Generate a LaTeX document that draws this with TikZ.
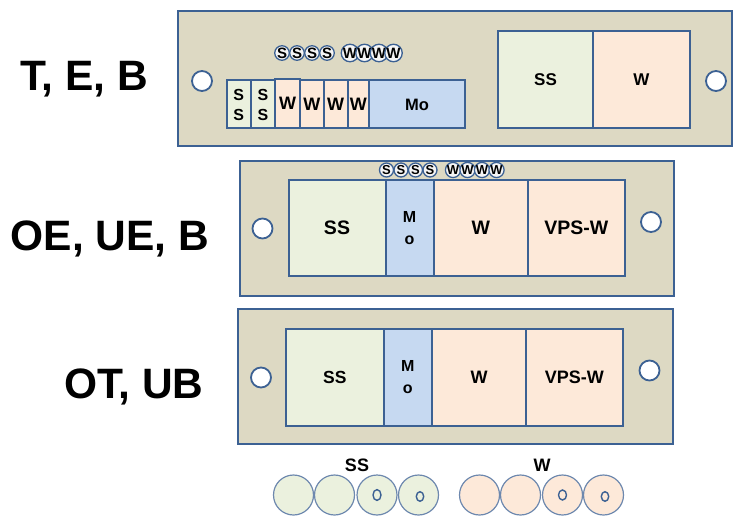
\documentclass[tikz,border=0pt]{standalone}
\usepackage{fontspec}
\setmainfont{Liberation Sans}
\usetikzlibrary{positioning}

\definecolor{panelbg}{HTML}{DDD9C3}
\definecolor{edge}{HTML}{3C6193}
\definecolor{ssfill}{HTML}{EBF1DE}
\definecolor{wfill}{HTML}{FDE9D9}
\definecolor{mofill}{HTML}{C6D9F1}

\newcommand{\fs}[1]{\bfseries\fontsize{#1}{#1}\selectfont}

\begin{document}
\begin{tikzpicture}[x=1pt,y=-1pt,
  panel/.style={draw=edge,fill=panelbg,line width=2pt},
  cell/.style={line width=2pt,inner sep=0pt,outer sep=0pt,anchor=north west,align=center},
  ss/.style={cell,fill=ssfill},
  w/.style={cell,fill=wfill},
  mo/.style={cell,fill=mofill},
  hole/.style={circle,draw=edge,fill=white,line width=1.8pt,minimum size=20pt,inner sep=0pt},
  pin/.style={circle,draw=edge,line width=1.3pt,fill=gray!8,minimum size=14pt,inner sep=0pt,font=\fs{13}},
  rod/.style={circle,draw=edge!75,line width=1.2pt,minimum size=40pt,inner sep=0pt},
  bore/.style={draw=edge,line width=1.4pt},
  title/.style={anchor=base,font=\fs{42.5}}]
  \useasboundingbox (0,0) rectangle (733,516);

  % titles
  \node[title] (t1) at (84,90.5) {T, E, B};
  \node[title] (t2) at (110,250) {OE, UE, B};
  \node[title] (t3) at (134,398) {OT, UB};

  % first panel
  \draw[panel] (178,11) rectangle (732,146);
  \node[hole] (h1a) at (202,81) {};
  \node[hole] (h1b) at (716,81) {};
  \foreach \i in {0,...,3} \node[pin,font=\fs{15}] (s1\i) at (282+15*\i,53) {S};
  \foreach \i in {0,...,3} \node[pin,font=\fs{15}] (w1\i) at (350+14.5*\i,53) {W};
  \node[ss,minimum width=24.5pt,minimum height=48pt,font=\fontsize{16}{20}\bfseries\selectfont] (a1) at (226.5,80.5) {S\\S};
  \node[ss,minimum width=24pt,minimum height=48pt,font=\fontsize{16}{20}\bfseries\selectfont] (a2) at (251,80.5) {S\\S};
  \node[w,minimum width=25pt,minimum height=49.5pt,font=\fs{18}] (a3) at (275,79) {W};
  \node[w,minimum width=23.5pt,minimum height=48pt,font=\fs{18}] (a4) at (300,80.5) {W};
  \node[w,minimum width=24pt,minimum height=48pt,font=\fs{18}] (a5) at (323.5,80.5) {W};
  \node[w,minimum width=21.5pt,minimum height=48pt,font=\fs{18}] (a6) at (347.5,80.5) {W};
  \node[mo,minimum width=96pt,minimum height=48pt,font=\fs{16.5}] (a7) at (369,80.5) {Mo};
  \node[ss,minimum width=95pt,minimum height=97.5pt,font=\fs{17}] (a8) at (498,31) {SS};
  \node[w,minimum width=97pt,minimum height=97.5pt,font=\fs{17}] (a9) at (593,31) {W};

  % second panel
  \draw[panel] (239.5,160.5) rectangle (673.5,296);
  \node[hole] (h2a) at (262.5,228.5) {};
  \node[hole] (h2b) at (651,222) {};
  \node[ss,minimum width=97pt,minimum height=96.5pt,font=\fs{19.5}] (b1) at (288.5,179.5) {SS};
  \node[mo,minimum width=48pt,minimum height=96.5pt,font=\fontsize{16}{22}\bfseries\selectfont] (b2) at (385.5,179.5) {M\\o};
  \node[w,minimum width=94.5pt,minimum height=96.5pt,font=\fs{19.5}] (b3) at (433.5,179.5) {W};
  \node[w,minimum width=96.5pt,minimum height=96.5pt,font=\fs{19.5}] (b4) at (528,179.5) {VPS-W};
  \foreach \i in {0,...,3} \node[pin] (s2\i) at (386.5+14.5*\i,170) {S};
  \foreach \i in {0,...,3} \node[pin] (w2\i) at (453+14.5*\i,170) {W};

  % third panel
  \draw[panel] (237.5,308.5) rectangle (672.5,444);
  \node[hole] (h3a) at (261,377.5) {};
  \node[hole] (h3b) at (649.5,370.5) {};
  \node[ss,minimum width=97.7pt,minimum height=97pt,font=\fs{17.5}] (c1) at (286,328.5) {SS};
  \node[mo,minimum width=48.3pt,minimum height=97pt,font=\fontsize{16}{22}\bfseries\selectfont] (c2) at (383.7,328.5) {M\\o};
  \node[w,minimum width=94.3pt,minimum height=97pt,font=\fs{18}] (c3) at (432,328.5) {W};
  \node[w,minimum width=96.2pt,minimum height=97pt,font=\fs{18}] (c4) at (526.3,328.5) {VPS-W};

  % cell outlines on top of the fills
  \foreach \n in {a1,a2,a3,a4,a5,a6,a7,a8,a9,b1,b2,b3,b4,c1,c2,c3,c4}
    \draw[edge,line width=2pt] (\n.north west) rectangle (\n.south east);

  % rods
  \node[font=\fs{18}] (lss) at (357,465) {SS};
  \node[font=\fs{18}] (lw) at (542,465) {W};
  \foreach \x [count=\i] in {293.5,334.5,377,418.5} \node[rod,fill=ssfill] (r\i) at (\x,495) {};
  \foreach \x [count=\i] in {479.5,520.5,562.5,603.5} \node[rod,fill=wfill] (q\i) at (\x,495) {};
  \draw[bore] (r3.center) ellipse (4 and 5.4);
  \draw[bore] ([xshift=1.5pt,yshift=-1.5pt]r4.center) ellipse (3.7 and 4.8);
  \draw[bore] (q3.center) ellipse (4 and 5);
  \draw[bore] ([xshift=1.5pt,yshift=-1.5pt]q4.center) ellipse (3.7 and 4.8);
\end{tikzpicture}
\end{document}
